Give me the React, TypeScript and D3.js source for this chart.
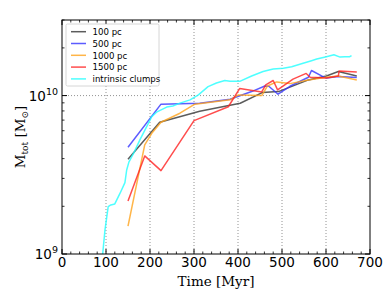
import * as d3 from 'd3';

const W = 390;
const H = 293;
const M = { top: 20, right: 20, bottom: 39, left: 62 };

// 100 pc
const t100 = [150, 222, 313, 405, 455, 492, 560, 601, 628, 670];
const m100 = [3.96e9, 6.79e9, 7.96e9, 8.95e9, 1.045e10, 1.06e10, 1.256e10, 1.33e10, 1.42e10, 1.33e10];

// 500 pc
const t500 = [150, 225, 313, 382, 431, 461, 470, 491, 518, 560, 567, 590, 601, 628, 670];
const m500 = [4.72e9, 8.83e9, 8.95e9, 9.48e9, 1.06e10, 1.15e10, 1.145e10, 1.02e10, 1.145e10, 1.306e10, 1.44e10, 1.33e10, 1.29e10, 1.32e10, 1.3e10];

// 1000 pc
const t1000 = [150, 188, 204, 225, 268, 302, 382, 401, 454, 467, 488, 518, 560, 601, 628, 670];
const m1000 = [1.5e9, 4.89e9, 5.78e9, 6.79e9, 7.74e9, 8.83e9, 9.4e9, 1.01e10, 1.0e10, 1.15e10, 1.22e10, 1.19e10, 1.256e10, 1.306e10, 1.33e10, 1.256e10];

// 1500 pc
const t1500 = [150, 188, 225, 300, 378, 404, 454, 463, 480, 490, 525, 555, 564, 601, 628, 630, 670];
const m1500 = [2.16e9, 4.16e9, 3.36e9, 6.95e9, 8.5e9, 1.11e10, 1.055e10, 1.17e10, 1.245e10, 1.087e10, 1.27e10, 1.38e10, 1.306e10, 1.29e10, 1.33e10, 1.43e10, 1.41e10];

// intrinsic clumps
const tClumps = [92, 97.7, 105, 111, 120, 132, 143, 147, 152, 164, 177, 191, 204, 216, 238, 252, 268, 291, 310, 332, 351, 370, 382, 404, 431, 457, 480, 503, 522, 548, 567, 579, 601, 618, 632, 643, 654, 658];
const mClumps = [9.7e8, 1.42e9, 1.99e9, 2.04e9, 2.07e9, 2.42e9, 2.82e9, 3.39e9, 3.8e9, 4.4e9, 5.25e9, 6.25e9, 7.36e9, 7.9e9, 8.46e9, 8.6e9, 8.96e9, 9.4e9, 1.01e10, 1.14e10, 1.2e10, 1.245e10, 1.23e10, 1.23e10, 1.33e10, 1.42e10, 1.47e10, 1.49e10, 1.52e10, 1.6e10, 1.66e10, 1.7e10, 1.76e10, 1.81e10, 1.75e10, 1.76e10, 1.76e10, 1.79e10];

const seriesNames = ['100 pc', '500 pc', '1000 pc', '1500 pc', 'intrinsic clumps'];
const seriesColors = ['#333333', '#3333ff', '#ffa31a', '#ff2020', '#22ffff'];
const seriesT = [t100, t500, t1000, t1500, tClumps];
const seriesM = [m100, m500, m1000, m1500, mClumps];

const xTicks = [0, 100, 200, 300, 400, 500, 600, 700];
const xGrid = [100, 200, 300, 400, 500, 600];
const yTicks = [1e9, 1e10];
const yTickExp = ['9', '10'];
const yMinor = [2e9, 3e9, 4e9, 5e9, 6e9, 7e9, 8e9, 9e9, 2e10, 3e10];

export default function App() {
  const iw = W - M.left - M.right;
  const ih = H - M.top - M.bottom;
  const x = d3.scaleLinear().domain([0, 700]).range([0, iw]);
  const y = d3.scaleLog().domain([1e9, 3e10]).range([ih, 0]);
  const line = d3
    .line<[number, number]>()
    .x((d) => x(d[0]))
    .y((d) => y(d[1]));
  const xMinor = d3.range(0, 701, 20).filter((v) => v % 100 !== 0);
  const font = 'DejaVu Sans, sans-serif';
  const serif = 'DejaVu Serif, serif';

  return (
    <svg width={W} height={H} style={{ position: 'absolute', left: 0, top: 0 }}>
      <rect width={W} height={H} fill="#fff" />
      <defs>
        <clipPath id="plot">
          <rect width={iw} height={ih} />
        </clipPath>
      </defs>
      <g transform={`translate(${M.left},${M.top})`}>
        {xGrid.map((v) => (
          <line key={v} x1={x(v)} x2={x(v)} y1={0} y2={ih} stroke="#777" strokeWidth={0.8} strokeDasharray="1,2" />
        ))}
        <line x1={0} x2={iw} y1={y(1e10)} y2={y(1e10)} stroke="#777" strokeWidth={0.8} strokeDasharray="1,2" />
        <g clipPath="url(#plot)">
          {seriesNames.map((n, i) => (
            <path
              key={n}
              d={line(seriesT[i].map((t, j) => [t, seriesM[i][j]] as [number, number])) || ''}
              fill="none"
              stroke={seriesColors[i]}
              strokeOpacity={0.8}
              strokeWidth={1.5}
              strokeLinejoin="round"
            />
          ))}
        </g>
        {/* ticks */}
        {xTicks.map((v) => (
          <g key={v}>
            <line x1={x(v)} x2={x(v)} y1={ih} y2={ih - 5} stroke="#000" />
            <line x1={x(v)} x2={x(v)} y1={0} y2={5} stroke="#000" />
            <text x={x(v)} y={ih + 13} textAnchor="middle" fontFamily={font} fontSize={13.5}>
              {v}
            </text>
          </g>
        ))}
        {xMinor.map((v) => (
          <g key={v}>
            <line x1={x(v)} x2={x(v)} y1={ih} y2={ih - 2.5} stroke="#000" strokeWidth={0.8} />
            <line x1={x(v)} x2={x(v)} y1={0} y2={2.5} stroke="#000" strokeWidth={0.8} />
          </g>
        ))}
        {yTicks.map((v, i) => (
          <g key={v}>
            <line x1={0} x2={5} y1={y(v)} y2={y(v)} stroke="#000" />
            <line x1={iw} x2={iw - 5} y1={y(v)} y2={y(v)} stroke="#000" />
            <text x={-4} y={y(v) + 5} textAnchor="end" fontFamily={font} fontSize={13.5}>
              10
              <tspan dy={-6} fontSize={9.5}>
                {yTickExp[i]}
              </tspan>
            </text>
          </g>
        ))}
        {yMinor.map((v) => (
          <g key={v}>
            <line x1={0} x2={2.5} y1={y(v)} y2={y(v)} stroke="#000" strokeWidth={0.8} />
            <line x1={iw} x2={iw - 2.5} y1={y(v)} y2={y(v)} stroke="#000" strokeWidth={0.8} />
          </g>
        ))}
        <rect width={iw} height={ih} fill="none" stroke="#000" strokeWidth={1} />
        {/* legend */}
        <g transform="translate(4,4)">
          <rect width={93} height={62} fill="#fff" stroke="#ccc" strokeWidth={0.8} rx={1.5} />
          {seriesNames.map((n, i) => (
            <g key={n} transform={`translate(0,${7.7 + i * 11.8})`}>
              <line x1={5} x2={20} y1={0} y2={0} stroke={seriesColors[i]} strokeOpacity={0.8} strokeWidth={1.5} />
              <text x={26.5} y={3.2} fontFamily={font} fontSize={8.6}>
                {n}
              </text>
            </g>
          ))}
        </g>
      </g>
      <text x={M.left + iw / 2} y={286} textAnchor="middle" fontFamily={serif} fontSize={13.5}>
        Time [Myr]
      </text>
      <text transform={`translate(25,${M.top + ih / 2}) rotate(-90)`} textAnchor="middle" fontFamily={serif} fontSize={13.5}>
        M
        <tspan dy={3} fontSize={9}>tot</tspan>
        <tspan dy={-3}> [M</tspan>
        <tspan dy={3} fontSize={9}>⊙</tspan>
        <tspan dy={-3}>]</tspan>
      </text>
    </svg>
  );
}
